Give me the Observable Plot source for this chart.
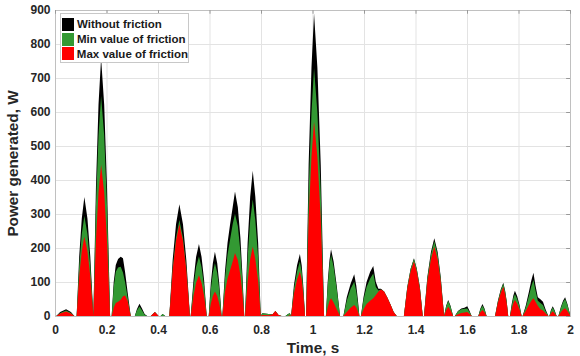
<!DOCTYPE html>
<html>
<head>
<meta charset="utf-8">
<script src="https://cdn.jsdelivr.net/npm/d3@7"></script>
<script src="https://cdn.jsdelivr.net/npm/@observablehq/plot@0.6"></script>
<style>
  html, body { margin: 0; padding: 0; background: #fff; }
  #wrap { position: relative; width: 580px; height: 356px; font-family: "Liberation Sans", Arial, sans-serif; }
  #legend { position: absolute; left: 60px; top: 13px; width: 126px; padding: 3px 0 1px 1px; background: #fff; border: 1px solid #c8c8c8; }
  .row { display: flex; align-items: center; height: 14.7px; font-weight: bold; font-size: 11.5px; color: #1a1a1a; white-space: nowrap; }
  .sw { width: 12px; height: 13px; margin-right: 3px; }
</style>
</head>
<body>
<div id="wrap"></div>
<script>
// ---- data ----
const time = [
  0.000,0.005,0.020,0.043,0.062,0.075,
  0.084,0.094,0.104,0.114,0.126,0.137,
  0.149,0.159,0.169,0.179,0.191,0.202,
  0.214,0.220,0.228,0.236,0.245,0.255,0.264,0.272,0.282,
  0.294,0.310,0.318,0.328,0.338,0.348,0.358,0.372,0.388,0.402,0.410,0.418,0.428,
  0.444,0.457,0.470,0.483,0.497,0.510,
  0.524,0.527,0.538,0.548,0.559,0.569,0.579,
  0.589,0.597,0.605,0.613,0.621,0.630,0.638,
  0.647,0.650,0.660,0.670,0.680,0.690,0.699,0.710,0.720,0.728,
  0.735,0.738,0.748,0.758,0.768,0.778,0.789,
  0.799,0.805,0.830,0.845,0.856,0.868,0.880,0.895,0.905,0.912,
  0.917,0.928,0.940,0.951,0.958,0.964,
  0.971,0.975,0.985,0.996,1.006,1.019,1.032,
  1.045,1.052,1.059,1.066,1.072,1.082,1.094,
  1.107,1.120,1.133,1.148,1.162,1.170,1.176,
  1.182,1.188,1.198,1.210,1.224,1.236,1.246,1.256,1.266,1.278,1.290,1.302,1.315,
  1.327,1.355,1.368,1.381,1.394,1.405,1.417,
  1.428,1.433,1.446,1.460,1.473,1.486,1.498,
  1.511,1.519,1.527,1.536,
  1.546,1.553,1.565,1.578,1.590,1.601,1.610,
  1.618,1.644,1.652,1.660,1.668,
  1.676,1.709,1.720,1.731,1.741,1.748,1.754,
  1.760,1.767,1.774,1.780,1.786,1.795,1.804,
  1.812,1.816,1.828,1.840,1.850,1.858,1.866,1.875,1.885,1.895,1.905,
  1.916,1.920,1.926,1.933,1.940,
  1.948,1.955,1.965,1.973,1.981,1.990,2.000];
const withoutFriction = [
  0,0,12,20,12,0,
  0,175,287,350,287,175,
  0,379,622,758,622,379,
  0,0,100,150,168,174,170,130,70,
  0,0,20,36,22,6,0,0,12,0,0,6,0,
  0,165,270,329,270,165,
  0,0,106,174,212,174,106,
  0,0,95,155,189,155,95,
  0,0,130,215,270,320,366,320,230,120,
  0,0,214,350,427,350,214,
  0,8,6,5,15,3,0,0,6,8,
  0,91,149,182,149,91,
  0,0,445,730,890,730,445,
  0,0,100,165,196,160,90,
  0,0,55,95,123,90,50,
  0,0,55,100,130,147,100,80,80,72,55,35,12,
  0,0,85,139,170,139,85,
  0,0,115,188,229,188,115,
  0,30,47,30,
  0,0,15,22,24,29,15,
  0,0,22,35,22,
  0,0,45,78,98,75,45,
  0,0,37,60,74,58,32,
  0,0,30,70,105,127,90,55,49,42,20,
  0,0,18,29,18,
  0,0,28,45,55,35,5];
const minFriction = [
  0,0,9,16,9,0,
  0,147,241,294,241,147,
  0,324,531,647,531,324,
  0,0,85,130,143,145,128,100,55,
  0,0,16,28,16,4,0,0,12,0,0,6,0,
  0,141,231,282,231,141,
  0,0,88,144,175,144,88,
  0,0,78,127,155,127,78,
  0,0,110,180,225,270,300,265,190,100,
  0,0,172,281,343,281,172,
  0,8,6,5,15,3,0,0,6,8,
  0,80,131,160,131,80,
  0,0,365,598,729,598,365,
  0,0,90,150,180,145,80,
  0,0,45,80,101,72,40,
  0,0,48,85,110,125,85,75,78,72,55,35,12,
  0,0,84,138,168,138,84,
  0,0,110,180,220,180,110,
  0,28,44,28,
  0,0,14,20,21,22,12,
  0,0,19,30,19,
  0,0,43,75,95,72,43,
  0,0,32,53,65,50,28,
  0,0,25,58,88,106,75,45,38,32,15,
  0,0,15,25,15,
  0,0,25,41,50,32,5];
const maxFriction = [
  0,0,7,13,7,0,
  0,117,191,233,191,117,
  0,222,364,444,364,222,
  0,0,25,38,42,48,58,60,45,
  0,0,0,0,0,0,0,0,12,0,0,0,0,
  0,135,221,270,221,135,
  0,0,60,98,120,98,60,
  0,0,36,59,72,59,36,
  0,0,70,110,135,160,185,165,120,65,
  0,0,102,167,204,167,102,
  0,3,2,5,15,3,0,0,0,2,
  0,66,107,131,107,66,
  0,0,286,468,571,468,286,
  0,0,26,44,52,40,20,
  0,0,12,24,32,25,14,
  0,0,20,35,45,52,62,72,78,72,55,35,12,
  0,0,80,131,160,131,80,
  0,0,102,167,204,167,102,
  0,17,27,17,
  0,0,5,9,10,12,6,
  0,0,11,18,11,
  0,0,39,68,86,65,38,
  0,0,23,38,47,36,20,
  0,0,15,32,45,52,42,30,20,16,8,
  0,0,8,14,8,
  0,0,12,19,23,15,2];
const seriesNames = ["Without friction", "Min value of friction", "Max value of friction"];
const xTicks = [0, 0.2, 0.4, 0.6, 0.8, 1, 1.2, 1.4, 1.6, 1.8, 2];
const yTicks = [0, 100, 200, 300, 400, 500, 600, 700, 800, 900];

// ---- styles ----
const colors = ["#000000", "#339933", "#ff0000"];
const gridColor = "#e3e3e3";
const textColor = "#262626";

const rows = time.map((t, i) => ({t, a: withoutFriction[i], b: minFriction[i], c: maxFriction[i]}));
const seriesKeys = ["a", "b", "c"];

const chart = Plot.plot({
  width: 580,
  height: 356,
  marginLeft: 55,
  marginRight: 10,
  marginTop: 10,
  marginBottom: 40,
  style: {fontFamily: "'Liberation Sans', Arial, sans-serif", fontWeight: "bold", fontSize: "12px", color: textColor, background: "#fff"},
  x: {domain: [0, 2]},
  y: {domain: [0, 900]},
  marks: [
    Plot.gridX(xTicks, {stroke: gridColor, strokeOpacity: 1}),
    Plot.gridY(yTicks, {stroke: gridColor, strokeOpacity: 1}),
    ...seriesKeys.map((k, i) => Plot.areaY(rows, {x: "t", y: k, fill: colors[i], curve: "linear"})),
    Plot.frame({stroke: "#c0c0c0"}),
    Plot.ruleX(xTicks, {x: d => d, y1: 889, y2: 900, stroke: "#999"}),
    Plot.ruleY(yTicks, {y: d => d, x1: 1.985, x2: 2, stroke: "#999"}),
    Plot.axisX(xTicks, {tickSize: 0, tickPadding: 9, tickFormat: d => String(+d.toFixed(1)), fontSize: 12, fill: textColor,
      label: "Time, s", labelAnchor: "center", labelArrow: "none", labelOffset: 36}),
    Plot.axisY(yTicks, {tickSize: 0, tickPadding: 5, fontSize: 12, fill: textColor,
      label: "Power generated, W", labelAnchor: "center", labelArrow: "none", labelOffset: 48})
  ]
});
// enlarge axis titles
chart.querySelectorAll("[aria-label='x-axis label'] text, [aria-label='y-axis label'] text").forEach(t => t.setAttribute("font-size", "15.3px"));

const wrap = document.getElementById("wrap");
wrap.appendChild(chart);

const legend = document.createElement("div");
legend.id = "legend";
seriesNames.forEach((name, i) => {
  const r = document.createElement("div");
  r.className = "row";
  const sw = document.createElement("span");
  sw.className = "sw";
  sw.style.background = colors[i];
  r.appendChild(sw);
  r.appendChild(document.createTextNode(name));
  legend.appendChild(r);
});
wrap.appendChild(legend);
</script>
</body>
</html>
